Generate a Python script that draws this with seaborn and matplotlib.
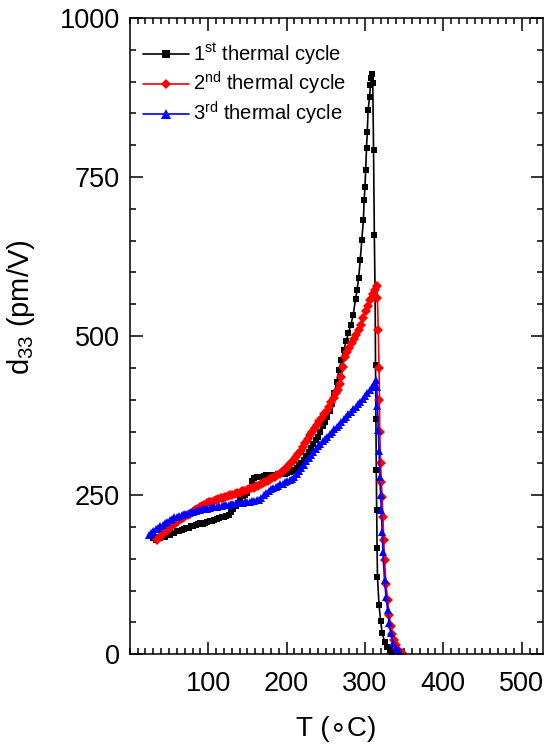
import matplotlib
matplotlib.use("Agg")
import matplotlib.pyplot as plt
import numpy as np
import pandas as pd
import seaborn as sns
from matplotlib.ticker import MultipleLocator, FixedLocator

# ---------------- data ----------------
cycle_names = ["1st thermal cycle", "2nd thermal cycle", "3rd thermal cycle"]
legend_labels = [r"1$^{st}$ thermal cycle", r"2$^{nd}$ thermal cycle", r"3$^{rd}$ thermal cycle"]

t1 = [30, 33, 36, 39, 42, 45, 48, 51, 54, 57, 60, 63, 66, 69, 72, 75, 78, 81, 84, 87,
      90, 93, 96, 99, 102, 105, 108, 111, 114, 117, 120, 123, 126, 129, 132, 135, 138, 141, 144, 147,
      150, 153, 156, 159, 162, 165, 168, 171, 174, 177, 180, 183, 186, 189, 192, 195, 198, 201, 204, 207,
      210, 213, 216, 219, 222, 225, 228, 231, 234, 237, 240, 243, 246, 249, 252, 255, 258, 261, 264, 267,
      270, 273, 276, 279, 282, 285, 288, 290, 292, 294, 296, 298, 299, 300, 301, 302, 303, 304,
      306, 307, 308, 309, 310, 311, 312, 313, 313.5, 314, 314.5, 315, 315.5, 316,
      318, 320, 322, 325, 328, 332, 335]
d1 = [182, 180, 184, 183, 186, 185, 188, 187, 190, 191, 194, 193, 196, 197, 199, 198, 201, 202, 203, 204,
      206, 205, 207, 208, 209, 210, 211, 212, 214, 215, 216, 218, 219, 224, 228, 233, 238, 244, 248, 251,
      254, 262, 272, 277, 278, 279, 278, 280, 281, 280, 281, 282, 281, 283, 283, 284, 284, 285, 286, 288,
      290, 293, 297, 301, 306, 312, 318, 324, 330, 336, 342, 350, 358, 365, 373, 383, 393, 410, 428, 447,
      462, 478, 492, 505, 518, 533, 558, 572, 592, 619, 651, 682, 714, 734, 761, 796, 820, 855,
      876, 895, 905, 912, 898, 792, 659, 560, 454, 370, 289, 226, 167, 121,
      77, 53, 33, 20, 12, 6, 3]

t2 = [35, 38, 41, 44, 47, 50, 53, 56, 59, 62, 65, 68, 71, 74, 77, 80, 83, 86, 89, 92,
      95, 98, 101, 104, 107, 110, 113, 116, 119, 122, 125, 128, 131, 134, 137, 140, 143, 146, 149, 152,
      155, 158, 161, 164, 167, 170, 173, 176, 179, 182, 185, 188, 191, 194, 197, 200, 203, 206, 209, 212,
      215, 218, 221, 224, 227, 230, 233, 236, 239, 242, 245, 248, 251, 254, 257, 260, 263, 266,
      268, 270, 272, 274, 277, 280, 283, 286, 289, 292, 295, 298, 301, 304, 307, 310, 313, 315,
      316, 317, 318, 318.5, 319, 320, 321, 322, 323, 324, 325,
      327, 329, 331, 333, 335, 337, 339, 341, 344, 347]
d2 = [179, 185, 188, 192, 195, 197, 201, 204, 207, 210, 213, 214, 217, 219, 221, 224, 227, 229, 231, 233,
      235, 237, 239, 240, 241, 243, 244, 245, 246, 247, 248, 250, 251, 252, 253, 254, 256, 257, 258, 260,
      261, 262, 264, 265, 267, 269, 271, 273, 275, 277, 279, 282, 284, 286, 290, 293, 297, 301, 305, 310,
      314, 319, 326, 332, 338, 344, 350, 355, 360, 366, 372, 378, 383, 389, 396, 403, 410, 416,
      424, 436, 452, 467, 475, 482, 489, 495, 502, 509, 518, 528, 539, 548, 557, 566, 573, 578,
      560, 510, 450, 400, 350, 300, 270, 247, 215, 180, 148,
      110, 85, 62, 45, 32, 22, 14, 8, 4, 2]

t3 = [24, 27, 30, 33, 36, 39, 42, 45, 48, 51, 54, 57, 60, 63, 66, 69, 72, 75, 78, 81,
      84, 87, 90, 93, 96, 99, 102, 105, 108, 111, 114, 117, 120, 123, 126, 129, 132, 135, 138, 141,
      144, 147, 150, 153, 156, 159, 162, 165, 168, 171, 174, 177, 180, 183, 186, 189, 192, 195, 198, 201,
      204, 207, 210, 213, 216, 219, 222, 225, 228, 231, 234, 237, 240, 243, 246, 249, 252, 255, 258, 261,
      264, 267, 270, 273, 276, 279, 282, 285, 288, 291, 294, 297, 300, 303, 306, 309, 312, 314,
      315, 316, 317, 318, 319, 320, 321, 322, 323, 325, 327, 329, 331, 333, 336, 339, 342, 345]
d3 = [187, 190, 194, 197, 199, 201, 203, 206, 208, 211, 213, 215, 216, 217, 219, 220, 221, 222, 223, 224,
      225, 226, 227, 228, 229, 229, 230, 231, 232, 232, 233, 233, 234, 235, 235, 236, 236, 237, 237, 238,
      238, 239, 239, 240, 241, 241, 242, 243, 246, 250, 254, 257, 259, 261, 263, 265, 267, 268, 270, 272,
      274, 276, 279, 283, 288, 293, 298, 303, 308, 313, 318, 323, 327, 331, 335, 339, 342, 346, 350, 354,
      357, 361, 365, 369, 373, 377, 381, 385, 389, 393, 397, 401, 406, 411, 415, 420, 425, 431,
      420, 390, 352, 320, 278, 250, 226, 192, 160, 116, 90, 69, 49, 33, 17, 10, 6, 3]

x_ticks = [100, 200, 300, 400, 500]
y_ticks = [0, 250, 500, 750, 1000]

# ---------------- build table ----------------
frames = []
for name, t, d in zip(cycle_names, [t1, t2, t3], [d1, d2, d3]):
    frames.append(pd.DataFrame({"T": t, "d33": d, "cycle": name}))
df = pd.concat(frames, ignore_index=True)

# ---------------- style ----------------
sns.set_theme(style="ticks")
plt.rcParams["font.family"] = ["Liberation Sans", "DejaVu Sans"]
plt.rcParams["mathtext.default"] = "regular"
plt.rcParams["axes.linewidth"] = 1.1
for k in ["text.color", "axes.labelcolor", "xtick.color", "ytick.color", "axes.edgecolor"]:
    plt.rcParams[k] = "black"

fig = plt.figure(figsize=(5.5, 7.46), dpi=100)
ax = fig.add_axes([0.236, 0.123, 0.751, 0.853])

sns.lineplot(data=df, x="T", y="d33", hue="cycle", style="cycle",
             palette=["black", "red", "blue"], markers=["s", "D", "^"], dashes=False,
             sort=False, estimator=None, linewidth=1.2, markersize=5,
             markeredgewidth=0, ax=ax)

msizes = {"black": 5.0, "red": 4.6, "blue": 6.0}
for ln in ax.lines:
    c = ln.get_color()
    if c in msizes:
        ln.set_markersize(msizes[c])

ax.set_xlim(0, 527)
ax.set_ylim(0, 1000)
ax.xaxis.set_major_locator(FixedLocator(x_ticks))
ax.yaxis.set_major_locator(FixedLocator(y_ticks))
ax.xaxis.set_minor_locator(MultipleLocator(10))
ax.yaxis.set_minor_locator(MultipleLocator(50))
ax.tick_params(which="both", direction="in", top=True, right=True, width=1.1, color="black",
               labelcolor="black")
ax.tick_params(which="major", length=9, labelsize=19.5)
ax.tick_params(which="minor", length=4.5)
ax.tick_params(axis="x", which="major", pad=12)
ax.tick_params(axis="y", which="major", pad=7)

ax.set_xlabel("T (\u2218C)", fontsize=20, labelpad=14)
ax.set_ylabel("d$_{33}$ (pm/V)", fontsize=21)
ax.yaxis.set_label_coords(-0.225, 0.545)

handles, labels = ax.get_legend_handles_labels()
for h in handles:
    c = h.get_color()
    if c in msizes:
        h.set_markersize(msizes[c] + 0.5)
ax.legend(handles, legend_labels, loc="upper left", bbox_to_anchor=(0.012, 0.975),
          borderaxespad=0, frameon=False, fontsize=14.5, handlelength=2.3,
          handletextpad=0.2, labelspacing=0.14, numpoints=1, borderpad=0.4)

fig.savefig("out.png", dpi=100, facecolor="white")
